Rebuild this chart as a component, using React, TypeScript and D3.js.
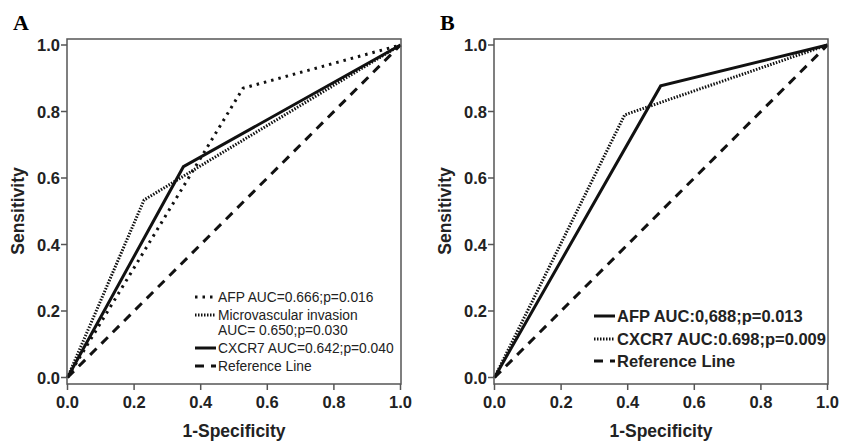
import * as React from "react"
import { scaleLinear, line } from "d3"

// ROC points [1-specificity, sensitivity]
const afpA = [[0, 0], [0.527, 0.87], [1, 1]]
const mviA = [[0, 0], [0.23, 0.534], [1, 1]]
const cxcr7A = [[0, 0], [0.348, 0.634], [1, 1]]
const afpB = [[0, 0], [0.499, 0.877], [1, 1]]
const cxcr7B = [[0, 0], [0.391, 0.79], [1, 1]]
const refLine = [[0, 0], [1, 1]]

const ticks = [0, 0.2, 0.4, 0.6, 0.8, 1.0]

const legendA = [
  { label: ["AFP AUC=0.666;p=0.016"], style: "sparse" },
  { label: ["Microvascular invasion", "AUC= 0.650;p=0.030"], style: "dense" },
  { label: ["CXCR7 AUC=0.642;p=0.040"], style: "solid" },
  { label: ["Reference Line"], style: "dash" },
]
const legendB = [
  { label: ["AFP AUC:0,688;p=0.013"], style: "solid" },
  { label: ["CXCR7 AUC:0.698;p=0.009"], style: "dense" },
  { label: ["Reference Line"], style: "dash" },
]

const styles: Record<string, any> = {
  solid: { strokeWidth: 3, dash: null },
  sparse: { strokeWidth: 3, dash: "2.5,5" },
  dense: { strokeWidth: 3, dash: "1.5,1.5" },
  dash: { strokeWidth: 3, dash: "9,7" },
}

const font = "'Liberation Sans', Arial, sans-serif"

function Panel({ left, letter, series, legend, legendX, legendRows, legendBold }) {
  const width = 334
  const x = scaleLinear().domain([0, 1]).range([left + 0.5, left + 333.5])
  const y = scaleLinear().domain([0, 1]).range([377.5, 45])
  const top = 39
  const bottom = 384
  const path = line<number[]>()
    .x((d) => x(d[0]))
    .y((d) => y(d[1]))

  return (
    <g>
      <text x={left - 54} y={30} fontFamily="'Liberation Serif', 'Times New Roman', serif" fontWeight="bold" fontSize={22}>
        {letter}
      </text>
      {series.map((s, i) => (
        <path
          key={i}
          d={path(s.data)}
          fill="none"
          stroke="#111"
          strokeWidth={styles[s.style].strokeWidth}
          strokeDasharray={styles[s.style].dash || undefined}
        />
      ))}
      <rect x={left} y={top} width={width} height={bottom - top} fill="none" stroke="#555" strokeWidth={1.5} />
      {ticks.map((t) => (
        <g key={"x" + t}>
          <line x1={x(t)} x2={x(t)} y1={bottom} y2={bottom + 6} stroke="#555" strokeWidth={1.5} />
          <text x={x(t)} y={408} textAnchor="middle" fontFamily={font} fontWeight="bold" fontSize={16.5} fill="#222">
            {t.toFixed(1)}
          </text>
        </g>
      ))}
      {ticks.map((t) => (
        <g key={"y" + t}>
          <line x1={left - 6} x2={left} y1={y(t)} y2={y(t)} stroke="#555" strokeWidth={1.5} />
          <text x={left - 7} y={y(t) + 6} textAnchor="end" fontFamily={font} fontWeight="bold" fontSize={16.5} fill="#222">
            {t.toFixed(1)}
          </text>
        </g>
      ))}
      <text x={left + 167} y={437} textAnchor="middle" fontFamily={font} fontWeight="bold" fontSize={17.5} fill="#222">
        1-Specificity
      </text>
      <text
        transform={`translate(${left - 43},${211}) rotate(-90)`}
        textAnchor="middle"
        fontFamily={font}
        fontWeight="bold"
        fontSize={17.5}
        fill="#222"
      >
        Sensitivity
      </text>
      {legend.map((item, i) => {
        const cy = legendRows[i]
        const st = styles[item.style]
        return (
          <g key={"l" + i}>
            <line
              x1={legendX}
              x2={legendX + 21}
              y1={cy}
              y2={cy}
              stroke="#111"
              strokeWidth={st.strokeWidth}
              strokeDasharray={st.dash || undefined}
            />
            {item.label.map((l, j) => (
              <text
                key={j}
                x={legendX + 23}
                y={cy + (legendBold ? 6 : 5) + j * 14.5}
                fontFamily={font}
                fontWeight={legendBold ? "bold" : "normal"}
                fontSize={legendBold ? 16.5 : 13.8}
                fill="#222"
              >
                {l}
              </text>
            ))}
          </g>
        )
      })}
    </g>
  )
}

export default function App() {
  return (
    <svg width={842} height={444} style={{ position: "absolute", left: 0, top: 0, background: "#fff" }}>
      <Panel
        left={67}
        letter="A"
        series={[
          { data: refLine, style: "dash" },
          { data: afpA, style: "sparse" },
          { data: mviA, style: "dense" },
          { data: cxcr7A, style: "solid" },
        ]}
        legend={legendA}
        legendX={195}
        legendRows={[297, 315, 348, 366]}
        legendBold={false}
      />
      <Panel
        left={494}
        letter="B"
        series={[
          { data: refLine, style: "dash" },
          { data: cxcr7B, style: "dense" },
          { data: afpB, style: "solid" },
        ]}
        legend={legendB}
        legendX={594}
        legendRows={[316, 339, 361]}
        legendBold={true}
      />
    </svg>
  )
}
